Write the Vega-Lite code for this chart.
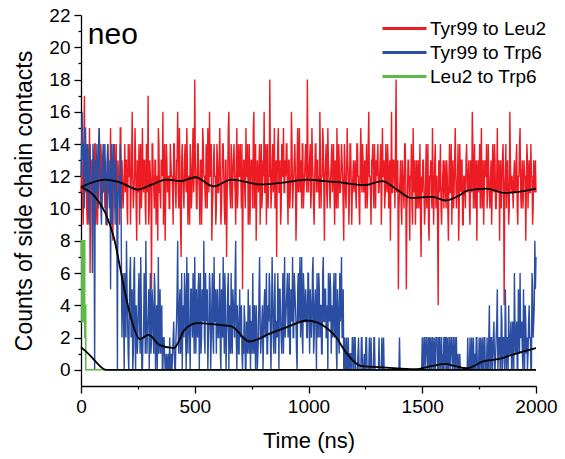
{
"$schema": "https://vega.github.io/schema/vega-lite/v6.json",
"width": 455, "height": 371,
"autosize": {"type": "none"},
"padding": {"left": 81, "top": 15, "right": 29, "bottom": 73},
"config": {
  "font": "Liberation Sans",
  "view": {"stroke": null},
  "axis": {"grid": false, "domainColor": "#000", "tickColor": "#000", "labelColor": "#000", "titleColor": "#000", "labelFontSize": 19, "titleFontSize": 22, "titleFontWeight": "normal", "domainWidth": 1.3, "tickWidth": 1.3, "labelFont": "Liberation Sans", "titleFont": "Liberation Sans", "labelOverlap": false, "labelFlush": false},
  "legend": {"labelFont": "Liberation Sans", "labelColor": "#000"}
},
"datasets": {
  "raw": [
{"t":0,"leu":11,"trp":12},{"t":5,"leu":13,"trp":16},{"t":10,"leu":9,"trp":14},{"t":15,"leu":17,"trp":10},{"t":20,"leu":12,"trp":15},{"t":25,"leu":10,"trp":11},{"t":30,"leu":14,"trp":13},{"t":35,"leu":11,"trp":9},{"t":40,"leu":6,"trp":14},{"t":45,"leu":12,"trp":12},{"t":50,"leu":13,"trp":6},{"t":55,"leu":10,"trp":13},{"t":60,"leu":14,"trp":0},{"t":65,"leu":9,"trp":11},{"t":70,"leu":12,"trp":14},{"t":75,"leu":11,"trp":10},{"t":80,"leu":15,"trp":15},{"t":85,"leu":10,"trp":12},{"t":90,"leu":13,"trp":9},{"t":95,"leu":12,"trp":13},
{"t":100,"leu":14,"trp":11},{"t":105,"leu":10,"trp":14},{"t":110,"leu":12,"trp":9},{"t":115,"leu":9,"trp":13},{"t":120,"leu":13,"trp":12},{"t":125,"leu":11,"trp":10},{"t":130,"leu":15,"trp":5},{"t":135,"leu":12,"trp":14},{"t":140,"leu":8,"trp":11},{"t":145,"leu":13,"trp":13},{"t":150,"leu":10,"trp":9},{"t":155,"leu":14,"trp":12},{"t":160,"leu":11,"trp":0},{"t":165,"leu":12,"trp":11},{"t":170,"leu":9,"trp":10},{"t":175,"leu":15,"trp":13},{"t":180,"leu":13,"trp":2},{"t":185,"leu":10,"trp":6},{"t":190,"leu":12,"trp":0},{"t":195,"leu":11,"trp":4},
{"t":200,"leu":13,"trp":8},{"t":205,"leu":9,"trp":3},{"t":210,"leu":12,"trp":0},{"t":215,"leu":14,"trp":6},{"t":220,"leu":11,"trp":2},{"t":225,"leu":16,"trp":5},{"t":230,"leu":10,"trp":1},{"t":235,"leu":12,"trp":7},{"t":240,"leu":13,"trp":0},{"t":245,"leu":8,"trp":3},{"t":250,"leu":11,"trp":2},{"t":255,"leu":14,"trp":6},{"t":260,"leu":12,"trp":1},{"t":265,"leu":10,"trp":4},{"t":270,"leu":15,"trp":0},{"t":275,"leu":11,"trp":2},{"t":280,"leu":13,"trp":5},{"t":285,"leu":9,"trp":8},{"t":290,"leu":12,"trp":1},{"t":295,"leu":17,"trp":3},
{"t":300,"leu":10,"trp":0},{"t":305,"leu":12,"trp":6},{"t":310,"leu":5,"trp":2},{"t":315,"leu":14,"trp":4},{"t":320,"leu":11,"trp":1},{"t":325,"leu":13,"trp":5},{"t":330,"leu":9,"trp":3},{"t":335,"leu":12,"trp":0},{"t":340,"leu":15,"trp":7},{"t":345,"leu":11,"trp":2},{"t":350,"leu":10,"trp":1},{"t":355,"leu":13,"trp":4},{"t":360,"leu":16,"trp":0},{"t":365,"leu":12,"trp":2},{"t":370,"leu":8,"trp":0},{"t":375,"leu":14,"trp":1},{"t":380,"leu":11,"trp":0},{"t":385,"leu":12,"trp":0},{"t":390,"leu":10,"trp":2},{"t":395,"leu":13,"trp":0},
{"t":400,"leu":12,"trp":0},{"t":405,"leu":9,"trp":2},{"t":410,"leu":14,"trp":1},{"t":415,"leu":11,"trp":0},{"t":420,"leu":13,"trp":3},{"t":425,"leu":16,"trp":8},{"t":430,"leu":10,"trp":1},{"t":435,"leu":12,"trp":5},{"t":440,"leu":7,"trp":2},{"t":445,"leu":14,"trp":0},{"t":450,"leu":11,"trp":4},{"t":455,"leu":13,"trp":6},{"t":460,"leu":12,"trp":2},{"t":465,"leu":15,"trp":7},{"t":470,"leu":9,"trp":1},{"t":475,"leu":12,"trp":3},{"t":480,"leu":14,"trp":0},{"t":485,"leu":10,"trp":5},{"t":490,"leu":13,"trp":2},{"t":495,"leu":11,"trp":4},
{"t":500,"leu":18,"trp":7},{"t":505,"leu":12,"trp":1},{"t":510,"leu":10,"trp":3},{"t":515,"leu":14,"trp":5},{"t":520,"leu":11,"trp":0},{"t":525,"leu":13,"trp":6},{"t":530,"leu":9,"trp":2},{"t":535,"leu":15,"trp":4},{"t":540,"leu":12,"trp":8},{"t":545,"leu":11,"trp":1},{"t":550,"leu":14,"trp":3},{"t":555,"leu":10,"trp":5},{"t":560,"leu":13,"trp":2},{"t":565,"leu":16,"trp":6},{"t":570,"leu":12,"trp":0},{"t":575,"leu":8,"trp":4},{"t":580,"leu":11,"trp":2},{"t":585,"leu":14,"trp":7},{"t":590,"leu":12,"trp":3},{"t":595,"leu":10,"trp":1},
{"t":600,"leu":13,"trp":5},{"t":605,"leu":11,"trp":2},{"t":610,"leu":15,"trp":6},{"t":615,"leu":9,"trp":0},{"t":620,"leu":12,"trp":3},{"t":625,"leu":14,"trp":7},{"t":630,"leu":10,"trp":1},{"t":635,"leu":13,"trp":4},{"t":640,"leu":7,"trp":2},{"t":645,"leu":12,"trp":5},{"t":650,"leu":16,"trp":0},{"t":655,"leu":11,"trp":3},{"t":660,"leu":14,"trp":6},{"t":665,"leu":10,"trp":1},{"t":670,"leu":13,"trp":4},{"t":675,"leu":12,"trp":2},{"t":680,"leu":9,"trp":8},{"t":685,"leu":15,"trp":0},{"t":690,"leu":11,"trp":3},{"t":695,"leu":12,"trp":1},
{"t":700,"leu":14,"trp":2},{"t":705,"leu":10,"trp":4},{"t":710,"leu":5,"trp":0},{"t":715,"leu":13,"trp":1},{"t":720,"leu":11,"trp":3},{"t":725,"leu":15,"trp":0},{"t":730,"leu":12,"trp":2},{"t":735,"leu":9,"trp":5},{"t":740,"leu":14,"trp":1},{"t":745,"leu":11,"trp":0},{"t":750,"leu":13,"trp":3},{"t":755,"leu":10,"trp":6},{"t":760,"leu":16,"trp":1},{"t":765,"leu":12,"trp":2},{"t":770,"leu":8,"trp":4},{"t":775,"leu":13,"trp":0},{"t":780,"leu":11,"trp":2},{"t":785,"leu":14,"trp":7},{"t":790,"leu":12,"trp":1},{"t":795,"leu":10,"trp":3},
{"t":800,"leu":13,"trp":0},{"t":805,"leu":16,"trp":4},{"t":810,"leu":11,"trp":2},{"t":815,"leu":9,"trp":6},{"t":820,"leu":14,"trp":1},{"t":825,"leu":12,"trp":3},{"t":830,"leu":18,"trp":5},{"t":835,"leu":10,"trp":0},{"t":840,"leu":13,"trp":7},{"t":845,"leu":11,"trp":2},{"t":850,"leu":15,"trp":4},{"t":855,"leu":12,"trp":1},{"t":860,"leu":7,"trp":3},{"t":865,"leu":14,"trp":6},{"t":870,"leu":11,"trp":0},{"t":875,"leu":13,"trp":5},{"t":880,"leu":10,"trp":2},{"t":885,"leu":12,"trp":4},{"t":890,"leu":15,"trp":1},{"t":895,"leu":11,"trp":7},
{"t":900,"leu":12,"trp":3},{"t":905,"leu":14,"trp":5},{"t":910,"leu":9,"trp":2},{"t":915,"leu":13,"trp":6},{"t":920,"leu":11,"trp":1},{"t":925,"leu":16,"trp":4},{"t":930,"leu":10,"trp":7},{"t":935,"leu":12,"trp":2},{"t":940,"leu":14,"trp":5},{"t":945,"leu":8,"trp":3},{"t":950,"leu":13,"trp":0},{"t":955,"leu":11,"trp":6},{"t":960,"leu":15,"trp":4},{"t":965,"leu":12,"trp":2},{"t":970,"leu":10,"trp":7},{"t":975,"leu":14,"trp":1},{"t":980,"leu":11,"trp":5},{"t":985,"leu":13,"trp":3},{"t":990,"leu":12,"trp":4},{"t":995,"leu":18,"trp":2},
{"t":1000,"leu":11,"trp":6},{"t":1005,"leu":13,"trp":1},{"t":1010,"leu":10,"trp":4},{"t":1015,"leu":15,"trp":3},{"t":1020,"leu":12,"trp":7},{"t":1025,"leu":9,"trp":2},{"t":1030,"leu":14,"trp":5},{"t":1035,"leu":11,"trp":0},{"t":1040,"leu":13,"trp":3},{"t":1045,"leu":12,"trp":6},{"t":1050,"leu":16,"trp":2},{"t":1055,"leu":10,"trp":4},{"t":1060,"leu":12,"trp":1},{"t":1065,"leu":14,"trp":7},{"t":1070,"leu":8,"trp":3},{"t":1075,"leu":13,"trp":5},{"t":1080,"leu":11,"trp":2},{"t":1085,"leu":15,"trp":0},{"t":1090,"leu":12,"trp":4},{"t":1095,"leu":10,"trp":6},
{"t":1100,"leu":13,"trp":1},{"t":1105,"leu":11,"trp":3},{"t":1110,"leu":14,"trp":5},{"t":1115,"leu":9,"trp":2},{"t":1120,"leu":12,"trp":6},{"t":1125,"leu":15,"trp":0},{"t":1130,"leu":10,"trp":4},{"t":1135,"leu":13,"trp":1},{"t":1140,"leu":11,"trp":3},{"t":1145,"leu":14,"trp":7},{"t":1150,"leu":12,"trp":2},{"t":1155,"leu":8,"trp":0},{"t":1160,"leu":13,"trp":2},{"t":1165,"leu":10,"trp":0},{"t":1170,"leu":15,"trp":0},{"t":1175,"leu":12,"trp":2},{"t":1180,"leu":11,"trp":0},{"t":1185,"leu":14,"trp":1},{"t":1190,"leu":9,"trp":0},{"t":1195,"leu":12,"trp":2},
{"t":1200,"leu":11,"trp":0},{"t":1205,"leu":13,"trp":2},{"t":1210,"leu":10,"trp":0},{"t":1215,"leu":14,"trp":0},{"t":1220,"leu":12,"trp":2},{"t":1225,"leu":9,"trp":0},{"t":1230,"leu":15,"trp":0},{"t":1235,"leu":11,"trp":2},{"t":1240,"leu":13,"trp":0},{"t":1245,"leu":12,"trp":1},{"t":1250,"leu":10,"trp":0},{"t":1255,"leu":14,"trp":2},{"t":1260,"leu":11,"trp":0},{"t":1265,"leu":16,"trp":0},{"t":1270,"leu":12,"trp":0},{"t":1275,"leu":9,"trp":2},{"t":1280,"leu":13,"trp":0},{"t":1285,"leu":11,"trp":0},{"t":1290,"leu":14,"trp":2},{"t":1295,"leu":10,"trp":0},
{"t":1300,"leu":12,"trp":0},{"t":1305,"leu":14,"trp":0},{"t":1310,"leu":11,"trp":2},{"t":1315,"leu":13,"trp":0},{"t":1320,"leu":9,"trp":0},{"t":1325,"leu":15,"trp":0},{"t":1330,"leu":12,"trp":2},{"t":1335,"leu":10,"trp":0},{"t":1340,"leu":14,"trp":0},{"t":1345,"leu":11,"trp":0},{"t":1350,"leu":13,"trp":0},{"t":1355,"leu":12,"trp":0},{"t":1360,"leu":8,"trp":0},{"t":1365,"leu":16,"trp":0},{"t":1370,"leu":11,"trp":0},{"t":1375,"leu":13,"trp":0},{"t":1380,"leu":10,"trp":0},{"t":1385,"leu":18,"trp":0},{"t":1390,"leu":12,"trp":0},{"t":1395,"leu":5,"trp":0},
{"t":1400,"leu":11,"trp":2},{"t":1405,"leu":13,"trp":0},{"t":1410,"leu":9,"trp":0},{"t":1415,"leu":12,"trp":0},{"t":1420,"leu":10,"trp":0},{"t":1425,"leu":14,"trp":0},{"t":1430,"leu":5,"trp":0},{"t":1435,"leu":11,"trp":0},{"t":1440,"leu":13,"trp":0},{"t":1445,"leu":8,"trp":0},{"t":1450,"leu":12,"trp":0},{"t":1455,"leu":10,"trp":0},{"t":1460,"leu":15,"trp":0},{"t":1465,"leu":11,"trp":0},{"t":1470,"leu":9,"trp":0},{"t":1475,"leu":13,"trp":0},{"t":1480,"leu":12,"trp":0},{"t":1485,"leu":10,"trp":0},{"t":1490,"leu":14,"trp":0},{"t":1495,"leu":7,"trp":0},
{"t":1500,"leu":11,"trp":2},{"t":1505,"leu":13,"trp":0},{"t":1510,"leu":9,"trp":2},{"t":1515,"leu":12,"trp":1},{"t":1520,"leu":10,"trp":2},{"t":1525,"leu":14,"trp":0},{"t":1530,"leu":8,"trp":2},{"t":1535,"leu":12,"trp":2},{"t":1540,"leu":11,"trp":0},{"t":1545,"leu":15,"trp":2},{"t":1550,"leu":9,"trp":1},{"t":1555,"leu":13,"trp":0},{"t":1560,"leu":10,"trp":2},{"t":1565,"leu":12,"trp":2},{"t":1570,"leu":4,"trp":0},{"t":1575,"leu":11,"trp":2},{"t":1580,"leu":14,"trp":0},{"t":1585,"leu":9,"trp":2},{"t":1590,"leu":12,"trp":1},{"t":1595,"leu":10,"trp":2},
{"t":1600,"leu":13,"trp":0},{"t":1605,"leu":10,"trp":2},{"t":1610,"leu":12,"trp":2},{"t":1615,"leu":8,"trp":0},{"t":1620,"leu":14,"trp":2},{"t":1625,"leu":11,"trp":1},{"t":1630,"leu":9,"trp":2},{"t":1635,"leu":13,"trp":0},{"t":1640,"leu":11,"trp":2},{"t":1645,"leu":15,"trp":0},{"t":1650,"leu":10,"trp":2},{"t":1655,"leu":12,"trp":0},{"t":1660,"leu":8,"trp":0},{"t":1665,"leu":14,"trp":1},{"t":1670,"leu":11,"trp":0},{"t":1675,"leu":13,"trp":0},{"t":1680,"leu":9,"trp":0},{"t":1685,"leu":12,"trp":0},{"t":1690,"leu":10,"trp":0},{"t":1695,"leu":14,"trp":0},
{"t":1700,"leu":11,"trp":2},{"t":1705,"leu":13,"trp":0},{"t":1710,"leu":9,"trp":2},{"t":1715,"leu":12,"trp":0},{"t":1720,"leu":16,"trp":0},{"t":1725,"leu":10,"trp":2},{"t":1730,"leu":14,"trp":1},{"t":1735,"leu":11,"trp":0},{"t":1740,"leu":8,"trp":2},{"t":1745,"leu":13,"trp":0},{"t":1750,"leu":12,"trp":2},{"t":1755,"leu":10,"trp":1},{"t":1760,"leu":15,"trp":0},{"t":1765,"leu":11,"trp":2},{"t":1770,"leu":9,"trp":0},{"t":1775,"leu":13,"trp":2},{"t":1780,"leu":12,"trp":0},{"t":1785,"leu":10,"trp":2},{"t":1790,"leu":14,"trp":0},{"t":1795,"leu":11,"trp":4},
{"t":1800,"leu":12,"trp":0},{"t":1805,"leu":9,"trp":2},{"t":1810,"leu":14,"trp":1},{"t":1815,"leu":11,"trp":3},{"t":1820,"leu":13,"trp":0},{"t":1825,"leu":10,"trp":2},{"t":1830,"leu":15,"trp":5},{"t":1835,"leu":12,"trp":1},{"t":1840,"leu":8,"trp":2},{"t":1845,"leu":13,"trp":0},{"t":1850,"leu":11,"trp":3},{"t":1855,"leu":14,"trp":2},{"t":1860,"leu":4,"trp":1},{"t":1865,"leu":12,"trp":5},{"t":1870,"leu":10,"trp":0},{"t":1875,"leu":13,"trp":2},{"t":1880,"leu":9,"trp":4},{"t":1885,"leu":16,"trp":1},{"t":1890,"leu":11,"trp":3},{"t":1895,"leu":12,"trp":0},
{"t":1900,"leu":10,"trp":2},{"t":1905,"leu":13,"trp":6},{"t":1910,"leu":11,"trp":1},{"t":1915,"leu":14,"trp":3},{"t":1920,"leu":9,"trp":0},{"t":1925,"leu":12,"trp":4},{"t":1930,"leu":15,"trp":6},{"t":1935,"leu":10,"trp":2},{"t":1940,"leu":13,"trp":1},{"t":1945,"leu":11,"trp":5},{"t":1950,"leu":12,"trp":0},{"t":1955,"leu":8,"trp":3},{"t":1960,"leu":14,"trp":2},{"t":1965,"leu":10,"trp":1},{"t":1970,"leu":13,"trp":4},{"t":1975,"leu":11,"trp":2},{"t":1980,"leu":12,"trp":0},{"t":1985,"leu":9,"trp":5},{"t":1990,"leu":13,"trp":3},{"t":1995,"leu":11,"trp":8},
{"t":2000,"leu":11,"trp":7},
{"t":2.5,"leu":12,"trp":14},{"t":7.5,"leu":10,"trp":13},{"t":12.5,"leu":14,"trp":11},{"t":17.5,"leu":11,"trp":15},{"t":22.5,"leu":13,"trp":12},{"t":27.5,"leu":9,"trp":14},{"t":32.5,"leu":12,"trp":10},{"t":37.5,"leu":15,"trp":13},{"t":42.5,"leu":11,"trp":12},{"t":47.5,"leu":13,"trp":11},{"t":52.5,"leu":10,"trp":14},{"t":57.5,"leu":12,"trp":9},{"t":62.5,"leu":14,"trp":13},{"t":67.5,"leu":11,"trp":12},{"t":72.5,"leu":9,"trp":11},{"t":77.5,"leu":13,"trp":14},{"t":82.5,"leu":12,"trp":13},{"t":87.5,"leu":14,"trp":10},{"t":92.5,"leu":10,"trp":12},{"t":97.5,"leu":11,"trp":14},
{"t":102.5,"leu":12,"trp":13},{"t":107.5,"leu":13,"trp":12},{"t":112.5,"leu":9,"trp":10},{"t":117.5,"leu":14,"trp":14},{"t":122.5,"leu":11,"trp":11},{"t":127.5,"leu":12,"trp":13},{"t":132.5,"leu":10,"trp":12},{"t":137.5,"leu":13,"trp":9},{"t":142.5,"leu":12,"trp":14},{"t":147.5,"leu":14,"trp":12},{"t":152.5,"leu":11,"trp":13},{"t":157.5,"leu":9,"trp":10},{"t":162.5,"leu":13,"trp":11},{"t":167.5,"leu":12,"trp":12},{"t":172.5,"leu":15,"trp":14},{"t":177.5,"leu":10,"trp":7},{"t":182.5,"leu":12,"trp":5},{"t":187.5,"leu":11,"trp":3},{"t":192.5,"leu":14,"trp":6},{"t":197.5,"leu":13,"trp":2},
{"t":202.5,"leu":10,"trp":5},{"t":207.5,"leu":14,"trp":1},{"t":212.5,"leu":12,"trp":4},{"t":217.5,"leu":9,"trp":7},{"t":222.5,"leu":13,"trp":3},{"t":227.5,"leu":12,"trp":0},{"t":232.5,"leu":11,"trp":6},{"t":237.5,"leu":15,"trp":2},{"t":242.5,"leu":10,"trp":4},{"t":247.5,"leu":13,"trp":1},{"t":252.5,"leu":12,"trp":5},{"t":257.5,"leu":9,"trp":3},{"t":262.5,"leu":14,"trp":7},{"t":267.5,"leu":11,"trp":0},{"t":272.5,"leu":12,"trp":2},{"t":277.5,"leu":13,"trp":6},{"t":282.5,"leu":10,"trp":1},{"t":287.5,"leu":14,"trp":4},{"t":292.5,"leu":11,"trp":3},{"t":297.5,"leu":9,"trp":5},
{"t":302.5,"leu":13,"trp":3},{"t":307.5,"leu":11,"trp":1},{"t":312.5,"leu":14,"trp":5},{"t":317.5,"leu":12,"trp":2},{"t":322.5,"leu":10,"trp":6},{"t":327.5,"leu":13,"trp":0},{"t":332.5,"leu":12,"trp":4},{"t":337.5,"leu":8,"trp":2},{"t":342.5,"leu":14,"trp":1},{"t":347.5,"leu":11,"trp":5},{"t":352.5,"leu":13,"trp":3},{"t":357.5,"leu":12,"trp":0},{"t":362.5,"leu":9,"trp":2},{"t":367.5,"leu":14,"trp":1},{"t":372.5,"leu":11,"trp":0},{"t":377.5,"leu":13,"trp":0},{"t":382.5,"leu":12,"trp":1},{"t":387.5,"leu":10,"trp":0},{"t":392.5,"leu":14,"trp":0},{"t":397.5,"leu":12,"trp":1},
{"t":402.5,"leu":11,"trp":1},{"t":407.5,"leu":14,"trp":3},{"t":412.5,"leu":12,"trp":0},{"t":417.5,"leu":10,"trp":2},{"t":422.5,"leu":13,"trp":5},{"t":427.5,"leu":11,"trp":2},{"t":432.5,"leu":15,"trp":4},{"t":437.5,"leu":9,"trp":1},{"t":442.5,"leu":13,"trp":6},{"t":447.5,"leu":12,"trp":3},{"t":452.5,"leu":10,"trp":2},{"t":457.5,"leu":14,"trp":5},{"t":462.5,"leu":11,"trp":0},{"t":467.5,"leu":13,"trp":4},{"t":472.5,"leu":12,"trp":6},{"t":477.5,"leu":9,"trp":2},{"t":482.5,"leu":13,"trp":5},{"t":487.5,"leu":11,"trp":3},{"t":492.5,"leu":15,"trp":6},{"t":497.5,"leu":12,"trp":1},
{"t":502.5,"leu":13,"trp":3},{"t":507.5,"leu":10,"trp":5},{"t":512.5,"leu":14,"trp":2},{"t":517.5,"leu":12,"trp":6},{"t":522.5,"leu":9,"trp":4},{"t":527.5,"leu":13,"trp":1},{"t":532.5,"leu":11,"trp":5},{"t":537.5,"leu":14,"trp":3},{"t":542.5,"leu":12,"trp":2},{"t":547.5,"leu":10,"trp":6},{"t":552.5,"leu":13,"trp":4},{"t":557.5,"leu":15,"trp":0},{"t":562.5,"leu":11,"trp":3},{"t":567.5,"leu":12,"trp":5},{"t":572.5,"leu":14,"trp":2},{"t":577.5,"leu":10,"trp":6},{"t":582.5,"leu":13,"trp":1},{"t":587.5,"leu":12,"trp":3},{"t":592.5,"leu":9,"trp":5},{"t":597.5,"leu":14,"trp":4},
{"t":602.5,"leu":11,"trp":2},{"t":607.5,"leu":13,"trp":4},{"t":612.5,"leu":12,"trp":1},{"t":617.5,"leu":10,"trp":5},{"t":622.5,"leu":14,"trp":2},{"t":627.5,"leu":12,"trp":3},{"t":632.5,"leu":9,"trp":6},{"t":637.5,"leu":13,"trp":0},{"t":642.5,"leu":11,"trp":3},{"t":647.5,"leu":15,"trp":6},{"t":652.5,"leu":12,"trp":4},{"t":657.5,"leu":10,"trp":1},{"t":662.5,"leu":13,"trp":2},{"t":667.5,"leu":12,"trp":5},{"t":672.5,"leu":14,"trp":3},{"t":677.5,"leu":11,"trp":6},{"t":682.5,"leu":13,"trp":2},{"t":687.5,"leu":10,"trp":4},{"t":692.5,"leu":14,"trp":1},{"t":697.5,"leu":12,"trp":5},
{"t":702.5,"leu":12,"trp":3},{"t":707.5,"leu":14,"trp":1},{"t":712.5,"leu":11,"trp":2},{"t":717.5,"leu":13,"trp":4},{"t":722.5,"leu":10,"trp":0},{"t":727.5,"leu":12,"trp":3},{"t":732.5,"leu":14,"trp":1},{"t":737.5,"leu":11,"trp":2},{"t":742.5,"leu":9,"trp":4},{"t":747.5,"leu":13,"trp":3},{"t":752.5,"leu":12,"trp":1},{"t":757.5,"leu":15,"trp":2},{"t":762.5,"leu":10,"trp":4},{"t":767.5,"leu":14,"trp":0},{"t":772.5,"leu":11,"trp":3},{"t":777.5,"leu":12,"trp":1},{"t":782.5,"leu":13,"trp":5},{"t":787.5,"leu":9,"trp":3},{"t":792.5,"leu":14,"trp":2},{"t":797.5,"leu":11,"trp":4},
{"t":802.5,"leu":12,"trp":2},{"t":807.5,"leu":11,"trp":5},{"t":812.5,"leu":14,"trp":3},{"t":817.5,"leu":13,"trp":1},{"t":822.5,"leu":10,"trp":4},{"t":827.5,"leu":12,"trp":6},{"t":832.5,"leu":13,"trp":2},{"t":837.5,"leu":11,"trp":3},{"t":842.5,"leu":14,"trp":5},{"t":847.5,"leu":12,"trp":1},{"t":852.5,"leu":10,"trp":6},{"t":857.5,"leu":13,"trp":3},{"t":862.5,"leu":12,"trp":2},{"t":867.5,"leu":15,"trp":4},{"t":872.5,"leu":11,"trp":5},{"t":877.5,"leu":9,"trp":3},{"t":882.5,"leu":14,"trp":1},{"t":887.5,"leu":12,"trp":6},{"t":892.5,"leu":11,"trp":4},{"t":897.5,"leu":13,"trp":2},
{"t":902.5,"leu":14,"trp":4},{"t":907.5,"leu":11,"trp":6},{"t":912.5,"leu":13,"trp":3},{"t":917.5,"leu":10,"trp":1},{"t":922.5,"leu":12,"trp":5},{"t":927.5,"leu":14,"trp":3},{"t":932.5,"leu":11,"trp":2},{"t":937.5,"leu":13,"trp":6},{"t":942.5,"leu":12,"trp":4},{"t":947.5,"leu":10,"trp":1},{"t":952.5,"leu":15,"trp":5},{"t":957.5,"leu":12,"trp":3},{"t":962.5,"leu":11,"trp":7},{"t":967.5,"leu":13,"trp":4},{"t":972.5,"leu":14,"trp":2},{"t":977.5,"leu":10,"trp":6},{"t":982.5,"leu":12,"trp":3},{"t":987.5,"leu":14,"trp":5},{"t":992.5,"leu":11,"trp":2},{"t":997.5,"leu":13,"trp":6},
{"t":1002.5,"leu":12,"trp":3},{"t":1007.5,"leu":14,"trp":5},{"t":1012.5,"leu":11,"trp":2},{"t":1017.5,"leu":13,"trp":6},{"t":1022.5,"leu":10,"trp":1},{"t":1027.5,"leu":12,"trp":4},{"t":1032.5,"leu":14,"trp":3},{"t":1037.5,"leu":13,"trp":6},{"t":1042.5,"leu":11,"trp":2},{"t":1047.5,"leu":10,"trp":5},{"t":1052.5,"leu":13,"trp":4},{"t":1057.5,"leu":12,"trp":1},{"t":1062.5,"leu":15,"trp":6},{"t":1067.5,"leu":11,"trp":3},{"t":1072.5,"leu":12,"trp":5},{"t":1077.5,"leu":14,"trp":2},{"t":1082.5,"leu":10,"trp":4},{"t":1087.5,"leu":13,"trp":6},{"t":1092.5,"leu":11,"trp":3},{"t":1097.5,"leu":12,"trp":5},
{"t":1102.5,"leu":14,"trp":4},{"t":1107.5,"leu":12,"trp":2},{"t":1112.5,"leu":11,"trp":6},{"t":1117.5,"leu":13,"trp":3},{"t":1122.5,"leu":10,"trp":1},{"t":1127.5,"leu":12,"trp":5},{"t":1132.5,"leu":14,"trp":2},{"t":1137.5,"leu":11,"trp":6},{"t":1142.5,"leu":12,"trp":4},{"t":1147.5,"leu":13,"trp":2},{"t":1152.5,"leu":10,"trp":5},{"t":1157.5,"leu":14,"trp":0},{"t":1162.5,"leu":11,"trp":0},{"t":1167.5,"leu":12,"trp":2},{"t":1172.5,"leu":13,"trp":0},{"t":1177.5,"leu":9,"trp":0},{"t":1182.5,"leu":14,"trp":1},{"t":1187.5,"leu":12,"trp":0},{"t":1192.5,"leu":11,"trp":2},{"t":1197.5,"leu":13,"trp":0},
{"t":1202.5,"leu":12,"trp":2},{"t":1207.5,"leu":11,"trp":0},{"t":1212.5,"leu":14,"trp":0},{"t":1217.5,"leu":12,"trp":1},{"t":1222.5,"leu":10,"trp":0},{"t":1227.5,"leu":13,"trp":0},{"t":1232.5,"leu":12,"trp":2},{"t":1237.5,"leu":14,"trp":0},{"t":1242.5,"leu":11,"trp":0},{"t":1247.5,"leu":13,"trp":0},{"t":1252.5,"leu":12,"trp":2},{"t":1257.5,"leu":10,"trp":0},{"t":1262.5,"leu":14,"trp":0},{"t":1267.5,"leu":12,"trp":2},{"t":1272.5,"leu":11,"trp":0},{"t":1277.5,"leu":13,"trp":0},{"t":1282.5,"leu":14,"trp":0},{"t":1287.5,"leu":10,"trp":2},{"t":1292.5,"leu":12,"trp":0},{"t":1297.5,"leu":13,"trp":0},
{"t":1302.5,"leu":13,"trp":0},{"t":1307.5,"leu":11,"trp":0},{"t":1312.5,"leu":12,"trp":0},{"t":1317.5,"leu":14,"trp":0},{"t":1322.5,"leu":11,"trp":2},{"t":1327.5,"leu":12,"trp":0},{"t":1332.5,"leu":13,"trp":0},{"t":1337.5,"leu":11,"trp":0},{"t":1342.5,"leu":12,"trp":0},{"t":1347.5,"leu":14,"trp":0},{"t":1352.5,"leu":10,"trp":0},{"t":1357.5,"leu":13,"trp":0},{"t":1362.5,"leu":12,"trp":0},{"t":1367.5,"leu":11,"trp":0},{"t":1372.5,"leu":13,"trp":0},{"t":1377.5,"leu":12,"trp":0},{"t":1382.5,"leu":14,"trp":0},{"t":1387.5,"leu":11,"trp":0},{"t":1392.5,"leu":13,"trp":0},{"t":1397.5,"leu":10,"trp":0},
{"t":1402.5,"leu":12,"trp":0},{"t":1407.5,"leu":10,"trp":0},{"t":1412.5,"leu":13,"trp":0},{"t":1417.5,"leu":11,"trp":0},{"t":1422.5,"leu":14,"trp":0},{"t":1427.5,"leu":12,"trp":0},{"t":1432.5,"leu":10,"trp":0},{"t":1437.5,"leu":13,"trp":0},{"t":1442.5,"leu":11,"trp":0},{"t":1447.5,"leu":12,"trp":0},{"t":1452.5,"leu":14,"trp":0},{"t":1457.5,"leu":9,"trp":0},{"t":1462.5,"leu":12,"trp":0},{"t":1467.5,"leu":13,"trp":0},{"t":1472.5,"leu":11,"trp":0},{"t":1477.5,"leu":10,"trp":0},{"t":1482.5,"leu":13,"trp":0},{"t":1487.5,"leu":12,"trp":0},{"t":1492.5,"leu":9,"trp":0},{"t":1497.5,"leu":12,"trp":0},
{"t":1502.5,"leu":13,"trp":0},{"t":1507.5,"leu":11,"trp":2},{"t":1512.5,"leu":10,"trp":0},{"t":1517.5,"leu":14,"trp":2},{"t":1522.5,"leu":12,"trp":0},{"t":1527.5,"leu":9,"trp":2},{"t":1532.5,"leu":12,"trp":0},{"t":1537.5,"leu":13,"trp":1},{"t":1542.5,"leu":10,"trp":2},{"t":1547.5,"leu":12,"trp":0},{"t":1552.5,"leu":11,"trp":2},{"t":1557.5,"leu":14,"trp":0},{"t":1562.5,"leu":12,"trp":2},{"t":1567.5,"leu":9,"trp":0},{"t":1572.5,"leu":13,"trp":2},{"t":1577.5,"leu":12,"trp":0},{"t":1582.5,"leu":10,"trp":2},{"t":1587.5,"leu":11,"trp":0},{"t":1592.5,"leu":13,"trp":0},{"t":1597.5,"leu":12,"trp":2},
{"t":1602.5,"leu":11,"trp":2},{"t":1607.5,"leu":13,"trp":0},{"t":1612.5,"leu":10,"trp":0},{"t":1617.5,"leu":12,"trp":2},{"t":1622.5,"leu":11,"trp":0},{"t":1627.5,"leu":14,"trp":2},{"t":1632.5,"leu":12,"trp":0},{"t":1637.5,"leu":10,"trp":2},{"t":1642.5,"leu":13,"trp":0},{"t":1647.5,"leu":12,"trp":2},{"t":1652.5,"leu":11,"trp":0},{"t":1657.5,"leu":14,"trp":1},{"t":1662.5,"leu":10,"trp":0},{"t":1667.5,"leu":12,"trp":0},{"t":1672.5,"leu":13,"trp":0},{"t":1677.5,"leu":9,"trp":0},{"t":1682.5,"leu":12,"trp":0},{"t":1687.5,"leu":11,"trp":0},{"t":1692.5,"leu":13,"trp":0},{"t":1697.5,"leu":12,"trp":0},
{"t":1702.5,"leu":12,"trp":0},{"t":1707.5,"leu":10,"trp":0},{"t":1712.5,"leu":13,"trp":0},{"t":1717.5,"leu":11,"trp":2},{"t":1722.5,"leu":14,"trp":0},{"t":1727.5,"leu":12,"trp":0},{"t":1732.5,"leu":10,"trp":0},{"t":1737.5,"leu":13,"trp":2},{"t":1742.5,"leu":12,"trp":0},{"t":1747.5,"leu":11,"trp":0},{"t":1752.5,"leu":14,"trp":0},{"t":1757.5,"leu":12,"trp":2},{"t":1762.5,"leu":10,"trp":0},{"t":1767.5,"leu":13,"trp":0},{"t":1772.5,"leu":11,"trp":2},{"t":1777.5,"leu":12,"trp":0},{"t":1782.5,"leu":14,"trp":0},{"t":1787.5,"leu":11,"trp":0},{"t":1792.5,"leu":12,"trp":2},{"t":1797.5,"leu":10,"trp":0},
{"t":1802.5,"leu":13,"trp":2},{"t":1807.5,"leu":11,"trp":0},{"t":1812.5,"leu":12,"trp":2},{"t":1817.5,"leu":14,"trp":0},{"t":1822.5,"leu":10,"trp":1},{"t":1827.5,"leu":12,"trp":3},{"t":1832.5,"leu":11,"trp":0},{"t":1837.5,"leu":13,"trp":2},{"t":1842.5,"leu":12,"trp":0},{"t":1847.5,"leu":10,"trp":4},{"t":1852.5,"leu":13,"trp":0},{"t":1857.5,"leu":12,"trp":2},{"t":1862.5,"leu":11,"trp":0},{"t":1867.5,"leu":14,"trp":3},{"t":1872.5,"leu":12,"trp":2},{"t":1877.5,"leu":11,"trp":0},{"t":1882.5,"leu":10,"trp":1},{"t":1887.5,"leu":13,"trp":2},{"t":1892.5,"leu":12,"trp":0},{"t":1897.5,"leu":11,"trp":3},
{"t":1902.5,"leu":12,"trp":0},{"t":1907.5,"leu":11,"trp":3},{"t":1912.5,"leu":13,"trp":2},{"t":1917.5,"leu":10,"trp":0},{"t":1922.5,"leu":12,"trp":5},{"t":1927.5,"leu":14,"trp":1},{"t":1932.5,"leu":11,"trp":2},{"t":1937.5,"leu":12,"trp":3},{"t":1942.5,"leu":10,"trp":0},{"t":1947.5,"leu":13,"trp":2},{"t":1952.5,"leu":12,"trp":4},{"t":1957.5,"leu":11,"trp":1},{"t":1962.5,"leu":13,"trp":0},{"t":1967.5,"leu":12,"trp":3},{"t":1972.5,"leu":11,"trp":2},{"t":1977.5,"leu":14,"trp":0},{"t":1982.5,"leu":12,"trp":6},{"t":1987.5,"leu":10,"trp":2},{"t":1992.5,"leu":12,"trp":4},{"t":1997.5,"leu":13,"trp":5}
  ],
  "green": [
{"t":0,"grn":7},{"t":2,"grn":8},{"t":5,"grn":3},{"t":8,"grn":8},{"t":10,"grn":6},{"t":12,"grn":3},{"t":15,"grn":8},{"t":18,"grn":2},{"t":20,"grn":4},{"t":22,"grn":0},{"t":25,"grn":0},{"t":100,"grn":0},{"t":500,"grn":0},{"t":1000,"grn":0},{"t":1500,"grn":0},{"t":2000,"grn":0}
  ],
  "smooth": [
{"s":"leu","t":0,"v":11.34},{"s":"leu","t":107,"v":11.8},{"s":"leu","t":171,"v":11.63},{"s":"leu","t":250,"v":11.18},{"s":"leu","t":313,"v":11.5},{"s":"leu","t":376,"v":11.8},{"s":"leu","t":440,"v":11.7},{"s":"leu","t":503,"v":11.94},{"s":"leu","t":582,"v":11.38},{"s":"leu","t":661,"v":11.8},{"s":"leu","t":787,"v":11.5},{"s":"leu","t":898,"v":11.63},{"s":"leu","t":993,"v":11.8},{"s":"leu","t":1072,"v":11.7},{"s":"leu","t":1151,"v":11.6},{"s":"leu","t":1246,"v":11.45},{"s":"leu","t":1325,"v":11.7},{"s":"leu","t":1388,"v":11.18},{"s":"leu","t":1451,"v":10.66},{"s":"leu","t":1546,"v":10.72},{"s":"leu","t":1602,"v":10.5},{"s":"leu","t":1657,"v":10.76},{"s":"leu","t":1704,"v":11.14},{"s":"leu","t":1783,"v":11.24},{"s":"leu","t":1862,"v":10.97},{"s":"leu","t":2000,"v":11.24},
{"s":"trp","t":0,"v":11.34},{"s":"trp","t":60,"v":10.76},{"s":"trp","t":107,"v":9.73},{"s":"trp","t":147,"v":8.07},{"s":"trp","t":171,"v":6.4},{"s":"trp","t":194,"v":4.76},{"s":"trp","t":226,"v":2.9},{"s":"trp","t":258,"v":1.9},{"s":"trp","t":297,"v":2.17},{"s":"trp","t":345,"v":1.55},{"s":"trp","t":408,"v":1.35},{"s":"trp","t":455,"v":2.48},{"s":"trp","t":511,"v":2.9},{"s":"trp","t":598,"v":2.8},{"s":"trp","t":661,"v":2.7},{"s":"trp","t":740,"v":1.76},{"s":"trp","t":835,"v":2.28},{"s":"trp","t":914,"v":2.7},{"s":"trp","t":993,"v":3.06},{"s":"trp","t":1080,"v":2.6},{"s":"trp","t":1119,"v":2.07},{"s":"trp","t":1167,"v":1.04},{"s":"trp","t":1230,"v":0.25},{"s":"trp","t":1341,"v":0.14},{"s":"trp","t":1467,"v":0.04},{"s":"trp","t":1546,"v":0.25},{"s":"trp","t":1602,"v":0.37},{"s":"trp","t":1641,"v":0.25},{"s":"trp","t":1696,"v":0.1},{"s":"trp","t":1768,"v":0.52},{"s":"trp","t":1831,"v":0.66},{"s":"trp","t":1894,"v":0.93},{"s":"trp","t":2000,"v":1.35},
{"s":"grn","t":0,"v":1.4},{"s":"grn","t":25,"v":1.1},{"s":"grn","t":50,"v":0.75},{"s":"grn","t":75,"v":0.35},{"s":"grn","t":105,"v":0.02},{"s":"grn","t":120,"v":0},{"s":"grn","t":1000,"v":0},{"s":"grn","t":2000,"v":0}
  ]
},
"encoding": {
  "x": {"field": "t", "type": "quantitative", "scale": {"domain": [0, 2000], "nice": false},
    "axis": {"title": "Time (ns)", "values": [0,250,500,750,1000,1250,1500,1750,2000], "tickCount": 20, "format": "d",
      "labelExpr": "datum.value % 500 === 0 ? datum.label : ''", "labelOverlap": false, "labelFlush": false,
      "tickSize": {"condition": {"test": "datum.value % 500 === 0", "value": 7}, "value": 3},
      "labelPadding": 4, "titlePadding": 14}}
},
"layer": [
  {"data": {"name": "raw"}, "mark": {"type": "line", "strokeWidth": 1.4},
   "encoding": {
     "y": {"field": "leu", "type": "quantitative", "scale": {"domain": [-1, 22], "nice": false},
       "axis": {"title": "Counts of side chain contacts", "titleFontSize": 23, "values": [0,1,2,3,4,5,6,7,8,9,10,11,12,13,14,15,16,17,18,19,20,21,22], "tickCount": 40, "format": "d",
         "labelExpr": "datum.value % 2 === 0 ? datum.label : ''", "labelOverlap": false,
         "tickSize": {"condition": {"test": "datum.value % 2 === 0", "value": 7}, "value": 3},
         "labelPadding": 4, "titlePadding": 12}},
     "color": {"datum": "Tyr99 to Leu2", "type": "nominal",
       "scale": {"domain": ["Tyr99 to Leu2", "Tyr99 to Trp6", "Leu2 to Trp6"], "range": ["#ED1C24", "#2B4EA2", "#5DB948"]},
       "legend": {"title": null, "orient": "none", "legendX": 300, "legendY": 2, "symbolType": "M-1,0H3.4", "symbolSize": 400, "symbolStrokeWidth": 3, "labelFontSize": 19, "labelOffset": 26, "rowPadding": 2}}
   }},
  {"data": {"name": "raw"}, "mark": {"type": "line", "strokeWidth": 1.4},
   "encoding": {
     "y": {"field": "trp", "type": "quantitative", "title": "Counts of side chain contacts"},
     "color": {"datum": "Tyr99 to Trp6", "type": "nominal"}
   }},
  {"data": {"name": "green"}, "mark": {"type": "line", "strokeWidth": 1.5, "interpolate": "step"},
   "encoding": {
     "y": {"field": "grn", "type": "quantitative", "title": "Counts of side chain contacts"},
     "color": {"datum": "Leu2 to Trp6", "type": "nominal"}
   }},
  {"data": {"name": "smooth"}, "mark": {"type": "line", "strokeWidth": 1.8, "color": "#000", "interpolate": "monotone"},
   "encoding": {
     "y": {"field": "v", "type": "quantitative", "title": "Counts of side chain contacts"},
     "detail": {"field": "s"}
   }},
  {"data": {"values": [{"t": 30, "v": 20.2, "label": "neo"}]},
   "mark": {"type": "text", "align": "left", "baseline": "alphabetic", "fontSize": 30, "font": "Liberation Sans", "color": "#000"},
   "encoding": {
     "y": {"field": "v", "type": "quantitative", "title": "Counts of side chain contacts"},
     "text": {"field": "label"}
   }}
]
}
